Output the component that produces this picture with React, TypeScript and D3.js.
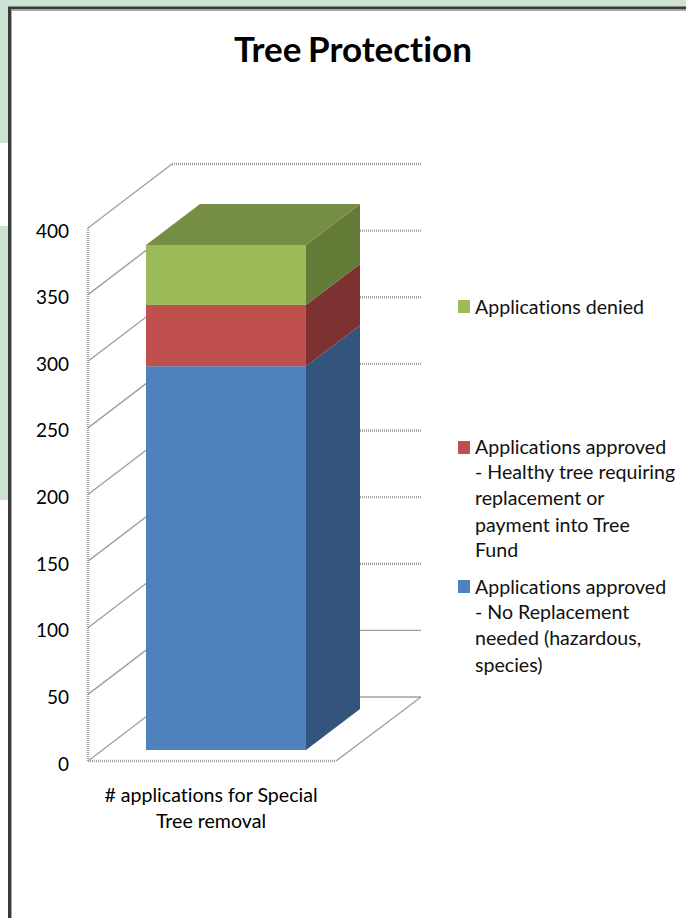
import * as d3 from 'd3';

const TITLE = 'Tree Protection';
const CATEGORY_LINES = ['# applications for Special', 'Tree removal'];
const Y_TICKS = [0, 50, 100, 150, 200, 250, 300, 350, 400];
const SERIES_KEYS = ['noReplacement', 'healthyTree', 'denied'];
const APPROVED_NO_REPLACEMENT = [288];
const APPROVED_HEALTHY = [46];
const DENIED = [45];

const FACE_COLORS = ['#4f81bd', '#c0504d', '#9bbb59'];
const SIDE_COLORS = ['#33547c', '#7b3230', '#647a37'];
const TOP_COLOR = '#758e44';
const GRID = '#a0a0a0';
const PAGE_GREEN = '#cde2d3';

const LEGEND = [
  { color: FACE_COLORS[2], swatchY: 300, lines: ['Applications denied'], ys: [306] },
  {
    color: FACE_COLORS[1],
    swatchY: 441,
    lines: ['Applications approved', '- Healthy tree requiring', 'replacement or', 'payment into Tree', 'Fund'],
    ys: [446, 471, 497, 524, 549],
  },
  {
    color: FACE_COLORS[0],
    swatchY: 580,
    lines: ['Applications approved', '- No Replacement', 'needed (hazardous,', 'species)'],
    ys: [586, 611, 637, 664],
  },
];

const FONT = 'Lato, "Noto Sans", sans-serif';
const TEXT_STYLE = { fontVariantLigatures: 'none' };

export default function App() {
  const width = 686;
  const height = 918;

  // front plane of the 3d box, the back wall sits up and to the right of it
  const y = d3.scaleLinear().domain([0, 400]).range([761, 228]);
  const wallLeft = 88;
  const wallRight = 336;
  const depth = { x: 84, y: -64 };

  // the column stands a bit inside the floor
  const barLeft = 146;
  const barRight = 306;
  const barLift = -11;
  const barDepth = { x: 54, y: -41 };

  const table = [
    {
      noReplacement: APPROVED_NO_REPLACEMENT[0],
      healthyTree: APPROVED_HEALTHY[0],
      denied: DENIED[0],
    },
  ];
  const stacked = d3.stack<any>().keys(SERIES_KEYS)(table);
  const totalTop = y(stacked[stacked.length - 1][0][1]) + barLift;

  const gridX1 = wallLeft + depth.x;
  const gridX2 = wallRight + depth.x + 1;

  return (
    <svg
      width={width}
      height={height}
      viewBox={`0 0 ${width} ${height}`}
      style={{ position: 'absolute', left: 0, top: 0, background: '#fff' }}
    >
      {/* page behind the chart frame */}
      <rect x={0} y={0} width={width} height={7} fill={PAGE_GREEN} />
      <rect x={0} y={0} width={8} height={143} fill={PAGE_GREEN} />
      <rect x={0} y={226} width={8} height={274} fill={PAGE_GREEN} />
      <rect x={8} y={7} width={3} height={height - 7} fill="#3a3a3a" />
      <rect x={11} y={10} width={1} height={height - 10} fill="#a8a8a8" />
      <rect x={8} y={6.5} width={width - 8} height={3} fill="#3a3a3a" />
      <rect x={11} y={9.5} width={width - 11} height={1.5} fill="#a8a8a8" />

      <text
        x={353}
        y={62}
        textAnchor="middle"
        fontFamily={FONT}
        fontWeight={700}
        fontSize={35}
        wordSpacing={-2}
        fill="#000"
        style={TEXT_STYLE}
      >
        {TITLE}
      </text>

      {/* walls and floor */}
      {Y_TICKS.map(tick => {
        const solid = tick <= 50;
        return (
          <g key={tick} fill="none" stroke={GRID}>
            <line x1={wallLeft} x2={gridX1} y1={y(tick)} y2={y(tick) + depth.y} strokeWidth={1.4} />
            <line
              x1={gridX1}
              x2={gridX2}
              y1={y(tick) + depth.y}
              y2={y(tick) + depth.y}
              strokeWidth={solid ? 1.4 : 2.4}
              strokeDasharray={solid ? undefined : '1 1'}
            />
          </g>
        );
      })}
      <line x1={wallLeft} x2={wallLeft} y1={y(400)} y2={y(0)} stroke={GRID} strokeWidth={2.4} strokeDasharray="1 1" />
      <line x1={wallLeft} x2={wallRight} y1={y(0)} y2={y(0)} stroke={GRID} strokeWidth={2.4} strokeDasharray="1 1" />
      <line
        x1={wallRight}
        x2={gridX2}
        y1={y(0)}
        y2={y(0) + depth.y}
        stroke={GRID}
        strokeWidth={1.4}
      />

      {/* stacked column: side faces first, then the front */}
      {stacked.map((layer, i) => {
        const y0 = y(layer[0][0]) + barLift;
        const y1 = y(layer[0][1]) + barLift;
        const side = [
          [barRight, y1],
          [barRight + barDepth.x, y1 + barDepth.y],
          [barRight + barDepth.x, y0 + barDepth.y],
          [barRight, y0],
        ];
        return (
          <g key={layer.key}>
            <polygon points={side.join(' ')} fill={SIDE_COLORS[i]} />
            <rect x={barLeft} y={y1} width={barRight - barLeft} height={y0 - y1} fill={FACE_COLORS[i]} />
          </g>
        );
      })}
      <polygon
        points={[
          [barLeft, totalTop],
          [barRight, totalTop],
          [barRight + barDepth.x, totalTop + barDepth.y],
          [barLeft + barDepth.x, totalTop + barDepth.y],
        ].join(' ')}
        fill={TOP_COLOR}
      />

      {/* y axis labels */}
      {Y_TICKS.map(tick => (
        <text
          key={tick}
          x={69}
          y={y(tick) + 2}
          textAnchor="end"
          dominantBaseline="central"
          fontFamily={FONT}
          fontSize={19}
          fill="#000"
        >
          {tick}
        </text>
      ))}

      {CATEGORY_LINES.map((line, i) => (
        <text
          key={line}
          x={211}
          y={794 + i * 26}
          textAnchor="middle"
          dominantBaseline="central"
          fontFamily={FONT}
          fontSize={19.6}
          fill="#000"
          style={TEXT_STYLE}
        >
          {line}
        </text>
      ))}

      {/* legend */}
      {LEGEND.map(item => (
        <g key={item.color}>
          <rect x={458} y={item.swatchY} width={12} height={13} fill={item.color} />
          {item.lines.map((line, i) => (
            <text
              key={line}
              x={475}
              y={item.ys[i]}
              dominantBaseline="central"
              fontFamily={FONT}
              fontSize={19.6}
              fill="#111"
              style={TEXT_STYLE}
            >
              {line}
            </text>
          ))}
        </g>
      ))}
    </svg>
  );
}
